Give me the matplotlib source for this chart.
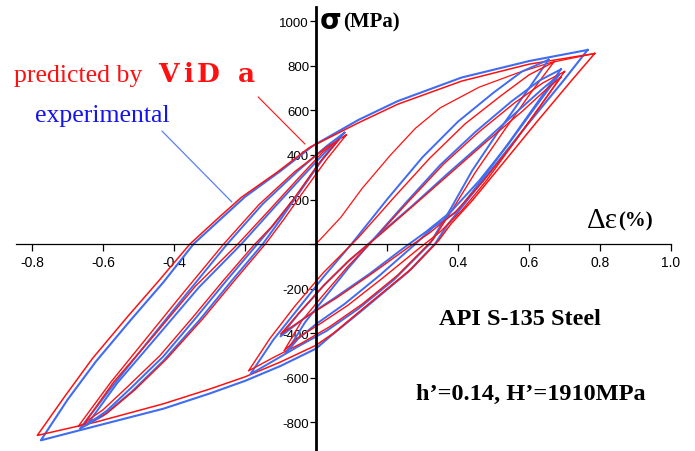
import matplotlib.pyplot as plt

# strain (%) / stress (MPa)
# outer loop
exp_outer = [(0.765, 872), (0.70, 740), (0.60, 545), (0.50, 345), (0.42, 185), (0.37, 85), (0.335, 0),
             (0.26, -125), (0.13, -298), (0.04, -415), (0.0, -470), (-0.10, -548), (-0.20, -615),
             (-0.30, -672), (-0.43, -740), (-0.62, -818), (-0.775, -882),
             (-0.70, -700), (-0.62, -528), (-0.52, -338), (-0.43, -172), (-0.345, 0), (-0.27, 110),
             (-0.20, 212), (-0.10, 328), (-0.01, 440), (0.12, 558), (0.23, 642), (0.41, 748),
             (0.60, 822), (0.765, 872)]
pred_outer = [(0.785, 856), (0.72, 735), (0.62, 545), (0.52, 350), (0.44, 195), (0.38, 90), (0.345, 15),
              (0.27, -110), (0.14, -280), (0.05, -400), (0.0, -455), (-0.10, -530), (-0.20, -597),
              (-0.30, -652), (-0.43, -718), (-0.62, -800), (-0.785, -860),
              (-0.71, -690), (-0.63, -515), (-0.53, -325), (-0.44, -160), (-0.355, 0), (-0.28, 110),
              (-0.21, 210), (-0.11, 322), (-0.02, 432), (0.12, 545), (0.23, 628), (0.41, 732),
              (0.60, 808), (0.785, 856)]
pred_initial = [(0.0, 0), (0.07, 120), (0.13, 250), (0.21, 400), (0.28, 520), (0.35, 612), (0.46, 705),
                (0.57, 770), (0.66, 815), (0.785, 856)]

# left loops
exp_left1 = [(0.08, 500), (0.02, 385), (-0.05, 225), (-0.10, 110), (-0.15, 0), (-0.24, -170), (-0.33, -345),
             (-0.43, -525), (-0.52, -665), (-0.60, -772), (-0.665, -830),
             (-0.57, -632), (-0.47, -432), (-0.36, -215), (-0.25, 0), (-0.15, 180), (-0.05, 330),
             (0.03, 440), (0.08, 500)]
exp_left2 = [(0.07, 482), (0.01, 365), (-0.06, 205), (-0.12, 85), (-0.165, 0), (-0.25, -160), (-0.34, -335),
             (-0.43, -505), (-0.52, -645), (-0.59, -750), (-0.645, -812),
             (-0.56, -625), (-0.45, -420), (-0.33, -195), (-0.21, 0), (-0.12, 160), (-0.04, 300),
             (0.03, 420), (0.07, 482)]
pred_left1 = [(0.085, 490), (0.03, 380), (-0.04, 225), (-0.09, 112), (-0.14, 5), (-0.23, -165), (-0.32, -338),
              (-0.42, -515), (-0.51, -655), (-0.59, -762), (-0.67, -820),
              (-0.58, -625), (-0.48, -428), (-0.37, -212), (-0.26, 0), (-0.16, 178), (-0.06, 325),
              (0.03, 435), (0.085, 490)]
pred_left2 = [(0.065, 470), (0.005, 355), (-0.065, 198), (-0.125, 78), (-0.175, -5), (-0.26, -162),
              (-0.35, -335), (-0.44, -502), (-0.53, -640), (-0.60, -745), (-0.65, -800),
              (-0.57, -620), (-0.46, -418), (-0.34, -190), (-0.22, 0), (-0.13, 155), (-0.05, 295),
              (0.02, 415), (0.065, 470)]

# right loops
exp_right1 = [(0.655, 828), (0.60, 700), (0.52, 520), (0.44, 330), (0.38, 160), (0.32, 0), (0.22, -160),
              (0.12, -290), (0.03, -390), (-0.05, -460), (-0.12, -525), (-0.185, -585),
              (-0.12, -430), (-0.05, -290), (0.02, -150), (0.10, 0), (0.20, 200), (0.30, 390),
              (0.40, 550), (0.50, 680), (0.58, 775), (0.655, 828)]
exp_right2 = [(0.69, 785), (0.63, 650), (0.55, 470), (0.47, 295), (0.40, 150), (0.33, 75), (0.28, 0),
              (0.18, -140), (0.08, -270), (0.0, -360), (-0.05, -425), (-0.085, -490),
              (-0.03, -350), (0.03, -230), (0.09, -110), (0.15, 0), (0.25, 180), (0.35, 355),
              (0.45, 505), (0.55, 640), (0.63, 735), (0.69, 785)]
exp_right3 = [(0.685, 760), (0.62, 620), (0.54, 445), (0.46, 285), (0.38, 145), (0.31, 55), (0.245, -20),
              (0.15, -135), (0.05, -245), (-0.03, -330), (-0.10, -415),
              (-0.05, -315), (0.02, -190), (0.09, -80), (0.165, 25), (0.27, 170), (0.37, 315),
              (0.47, 455), (0.57, 600), (0.64, 700), (0.685, 760)]
pred_right1 = [(0.67, 818), (0.61, 690), (0.53, 510), (0.45, 325), (0.39, 170), (0.33, 20), (0.23, -140),
               (0.13, -270), (0.04, -370), (-0.04, -445), (-0.12, -510), (-0.19, -570),
               (-0.13, -425), (-0.06, -280), (0.02, -130), (0.12, 30), (0.22, 210), (0.32, 385),
               (0.42, 540), (0.52, 665), (0.60, 760), (0.67, 818)]
pred_right2 = [(0.70, 775), (0.64, 640), (0.56, 460), (0.48, 285), (0.41, 150), (0.35, 55), (0.29, -20),
               (0.19, -150), (0.09, -275), (0.01, -360), (-0.05, -420), (-0.09, -480),
               (-0.04, -345), (0.02, -230), (0.09, -100), (0.16, 15), (0.26, 190), (0.36, 360),
               (0.46, 505), (0.56, 635), (0.64, 725), (0.70, 775)]
pred_right3 = [(0.69, 750), (0.63, 615), (0.55, 440), (0.47, 280), (0.39, 140), (0.32, 50), (0.26, -15),
               (0.16, -130), (0.06, -240), (-0.02, -320), (-0.10, -405),
               (-0.045, -305), (0.025, -180), (0.095, -70), (0.175, 35), (0.28, 180), (0.38, 320),
               (0.48, 460), (0.58, 595), (0.645, 690), (0.69, 750)]

x_ticks = [-0.8, -0.6, -0.4, -0.2, 0.0, 0.2, 0.4, 0.6, 0.8, 1.0]
x_labels = ['-0.8', '-0.6', '-0.4', '', '', '', '0.4', '0.6', '0.8', '1.0']
y_ticks = [-800, -600, -400, -200, 0, 200, 400, 600, 800, 1000]
y_labels = ['-800', '-600', '-400', '-200', '', '200', '400', '600', '800', '1000']

BLUE = '#3f6cf0'
RED = '#ff1010'

fig = plt.figure(figsize=(6.95, 4.52), dpi=100)
ax = fig.add_axes([16 / 695, 0, 655 / 695, 444 / 452])
ax.set_xlim(-0.845, 1.0)
ax.set_ylim(-930, 1065)


def draw(pts, color, lw):
    ax.plot([p[0] for p in pts], [p[1] for p in pts], color=color, lw=lw, zorder=3)


draw(exp_outer, BLUE, 1.5)
draw(pred_outer, RED, 1.1)
draw(pred_initial, RED, 0.9)
for e, p in [(exp_left1, pred_left1), (exp_left2, pred_left2),
             (exp_right1, pred_right1), (exp_right2, pred_right2), (exp_right3, pred_right3)]:
    draw(e, BLUE, 1.4)
    draw(p, RED, 1.0)

# axes through the origin
for s in ['top', 'right']:
    ax.spines[s].set_visible(False)
ax.spines['left'].set_position(('data', 0))
ax.spines['bottom'].set_position(('data', 0))
ax.spines['left'].set_linewidth(2.0)
ax.spines['bottom'].set_linewidth(0.9)
ax.spines['left'].set_zorder(4)
ax.spines['bottom'].set_zorder(4)
ax.set_axisbelow(True)
ax.set_xticks(x_ticks, x_labels, fontsize=10, family='Liberation Sans')
ax.set_yticks(y_ticks, y_labels, fontsize=9.5, family='Liberation Sans')
ax.tick_params(axis='x', length=5, width=0.9, pad=3)
ax.tick_params(axis='y', length=4, width=0.9, pad=1)

serif = 'Liberation Serif'
ax.text(-0.851, 733, 'predicted by', color=RED, fontsize=18.5, family=serif, va='baseline')
for letter, xpos in [('V', -0.417), ('i', -0.359), ('D', -0.304), ('a', -0.196)]:
    ax.text(xpos, 733, letter, color=RED, fontsize=19, family='DejaVu Serif', weight='bold',
            ha='center', va='baseline')
ax.text(-0.792, 553, 'experimental', color='#1414f0', fontsize=18.5, family=serif, va='baseline')
ax.annotate('', xy=(-0.031, 449), xytext=(-0.163, 661),
            arrowprops=dict(arrowstyle='-', color=RED, lw=0.8, shrinkA=0, shrinkB=0))
ax.annotate('', xy=(-0.237, 189), xytext=(-0.434, 508),
            arrowprops=dict(arrowstyle='-', color='#5a80f5', lw=0.9, shrinkA=0, shrinkB=0))

ax.text(0.011, 1005, 'σ', fontsize=20, weight='bold', family='DejaVu Sans', va='center')
ax.text(0.076, 1000, '(MPa)', fontsize=15, family=serif, weight='bold', va='center')
ax.text(0.762, 76, 'Δε', fontsize=21, family=serif, va='baseline')
ax.text(0.850, 82, '(%)', fontsize=15, family=serif, weight='bold', va='baseline')

ax.text(0.575, -360, 'API S-135 Steel', fontsize=17.5, family=serif, weight='bold',
        ha='center', va='baseline')
ax.text(0.605, -697, 'h\u2019=0.14, H\u2019=1910MPa', fontsize=17.5, family=serif, weight='bold',
        ha='center', va='baseline')

plt.savefig('out.png', dpi=100)
